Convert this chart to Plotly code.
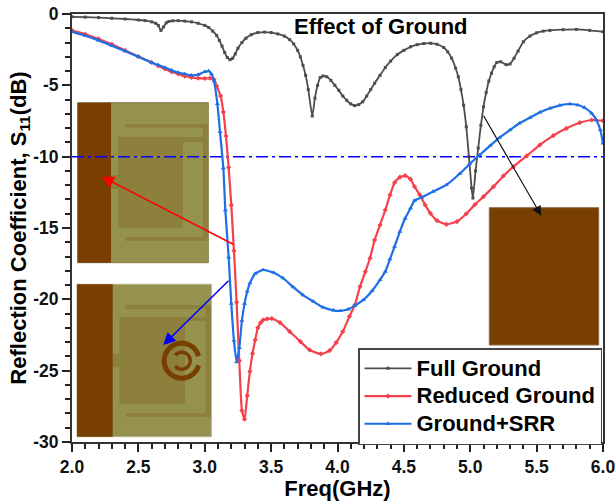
import numpy as np
import plotly.graph_objects as go

W, H = 616, 501
L, R, T, B = 72, 603, 14, 442

full_x = [2.0,2.1,2.2,2.3,2.4,2.5,2.55,2.6,2.63,2.65,2.67,2.69,2.71,2.73,2.76,2.8,2.85,2.9,2.95,3.0,3.03,3.06,3.09,3.11,3.13,3.15,3.17,3.19,3.21,3.23,3.25,3.28,3.31,3.35,3.4,3.45,3.5,3.55,3.6,3.64,3.67,3.7,3.72,3.74,3.76,3.78,3.81,3.83,3.85,3.87,3.89,3.92,3.95,3.98,4.01,4.04,4.07,4.1,4.13,4.16,4.19,4.22,4.25,4.28,4.32,4.36,4.4,4.45,4.5,4.55,4.6,4.65,4.7,4.75,4.8,4.83,4.86,4.89,4.91,4.93,4.95,4.97,4.99,5.01,5.02,5.04,5.06,5.08,5.1,5.12,5.14,5.16,5.18,5.2,5.23,5.27,5.3,5.33,5.36,5.4,5.45,5.5,5.55,5.6,5.7,5.8,5.9,6.0]
full_y = [-0.2,-0.22,-0.25,-0.3,-0.35,-0.42,-0.46,-0.55,-0.65,-0.8,-1.15,-0.9,-0.62,-0.52,-0.48,-0.47,-0.5,-0.55,-0.65,-0.8,-0.95,-1.2,-1.5,-1.85,-2.25,-2.7,-3.05,-3.2,-3.1,-2.8,-2.4,-2.0,-1.7,-1.45,-1.3,-1.27,-1.3,-1.4,-1.55,-1.8,-2.1,-2.55,-3.0,-3.6,-4.3,-5.3,-7.15,-5.9,-5.0,-4.45,-4.35,-4.4,-4.65,-5.0,-5.35,-5.75,-6.05,-6.3,-6.42,-6.35,-6.15,-5.75,-5.3,-4.85,-4.3,-3.75,-3.3,-2.85,-2.55,-2.3,-2.15,-2.07,-2.05,-2.12,-2.35,-2.65,-3.1,-3.8,-4.4,-5.3,-6.4,-7.9,-10.0,-12.2,-12.9,-11.0,-9.4,-7.8,-6.5,-5.5,-4.7,-4.15,-3.7,-3.4,-3.35,-3.55,-3.5,-3.1,-2.6,-1.95,-1.55,-1.32,-1.2,-1.15,-1.1,-1.08,-1.15,-1.25]

red_x = [2.0,2.1,2.2,2.3,2.4,2.5,2.6,2.65,2.7,2.75,2.8,2.85,2.9,2.95,3.0,3.04,3.07,3.09,3.12,3.14,3.16,3.18,3.2,3.22,3.24,3.26,3.28,3.3,3.32,3.34,3.36,3.38,3.4,3.42,3.44,3.47,3.505,3.567,3.64,3.72,3.79,3.875,3.94,3.99,4.04,4.09,4.13,4.17,4.21,4.245,4.28,4.32,4.36,4.396,4.43,4.47,4.51,4.55,4.58,4.62,4.66,4.7,4.75,4.82,4.9,4.97,5.035,5.1,5.175,5.25,5.325,5.425,5.525,5.625,5.725,5.825,5.915,6.0]
red_y = [-1.15,-1.42,-1.75,-2.12,-2.55,-2.98,-3.4,-3.63,-3.85,-4.05,-4.2,-4.35,-4.45,-4.5,-4.52,-4.5,-4.6,-5.05,-5.75,-6.87,-8.55,-10.75,-13.4,-16.6,-20.2,-24.3,-27.8,-28.4,-26.75,-25.05,-23.8,-22.85,-22.0,-21.65,-21.45,-21.37,-21.35,-21.63,-22.26,-22.96,-23.55,-23.83,-23.6,-23.03,-22.26,-21.2,-20.4,-19.1,-18.06,-17.12,-15.84,-14.79,-13.74,-12.68,-11.82,-11.44,-11.33,-11.58,-12.1,-12.68,-13.38,-13.97,-14.48,-14.74,-14.55,-14.0,-13.36,-12.8,-12.1,-11.35,-10.7,-9.95,-9.18,-8.53,-8.01,-7.62,-7.43,-7.48]

blue_x = [2.0,2.1,2.2,2.3,2.4,2.5,2.6,2.65,2.7,2.75,2.8,2.85,2.9,2.95,3.0,3.03,3.05,3.07,3.095,3.115,3.14,3.155,3.18,3.2,3.22,3.24,3.26,3.28,3.3,3.32,3.34,3.38,3.44,3.52,3.59,3.667,3.74,3.82,3.89,3.97,4.02,4.08,4.13,4.195,4.26,4.32,4.36,4.395,4.43,4.47,4.51,4.55,4.58,4.635,4.72,4.82,4.92,4.995,5.07,5.15,5.22,5.3,5.37,5.45,5.525,5.6,5.675,5.75,5.81,5.86,5.915,5.95,5.98,6.0]
blue_y = [-1.25,-1.52,-1.85,-2.22,-2.6,-3.0,-3.4,-3.58,-3.75,-3.95,-4.1,-4.2,-4.3,-4.25,-4.05,-4.0,-4.2,-4.7,-6.3,-8.27,-10.8,-13.75,-17.05,-20.3,-22.9,-24.4,-23.4,-21.5,-20.3,-19.45,-18.87,-18.2,-17.94,-18.13,-18.52,-19.15,-19.7,-20.16,-20.56,-20.77,-20.81,-20.7,-20.44,-20.04,-19.41,-18.64,-18.05,-17.19,-16.3,-15.25,-14.32,-13.62,-13.08,-12.85,-12.45,-11.98,-11.2,-10.51,-9.88,-9.23,-8.67,-8.13,-7.66,-7.26,-6.89,-6.61,-6.4,-6.31,-6.38,-6.56,-6.96,-7.43,-8.13,-9.06]

threshold_x = [2.0, 6.0]
threshold_y = [-10, -10]

x_ticks = [2.0,2.5,3.0,3.5,4.0,4.5,5.0,5.5,6.0]
x_labels = ["2.0","2.5","3.0","3.5","4.0","4.5","5.0","5.5","6.0"]
y_ticks = [0,-5,-10,-15,-20,-25,-30]
y_labels = ["0","-5","-10","-15","-20","-25","-30"]

names = ["Full Ground", "Reduced Ground", "Ground+SRR"]
DARK, RED, BLUE = "#4d4d4d", "#f5414b", "#1e6fe6"
BROWN, OLIVE, PATCH = "#783f00", "#95914f", "#8d7f3c"
FONT = "Liberation Sans, Arial, sans-serif"

px = lambda v: (v - L) / (R - L)
py = lambda v: (B - v) / (B - T)


def rect(x0, y0, x1, y1, color, line=None):
    return dict(type="rect", xref="paper", yref="paper", layer="below",
                x0=px(x0), x1=px(x1), y0=py(y1), y1=py(y0), fillcolor=color,
                line=dict(color=line or color, width=1 if line else 0))


def arc(cx, cy, r, a0, a1, width):
    t = np.radians(np.linspace(a0, a1, 48))
    pts = [f"{px(cx + r*np.cos(a)):.5f},{py(cy - r*np.sin(a)):.5f}" for a in t]
    return dict(type="path", xref="paper", yref="paper", layer="below",
                path="M" + " L".join(pts), line=dict(color=BROWN, width=width))


shapes = [
    rect(77.7, 102.7, 208.3, 262.7, OLIVE, "#807c48"),
    rect(125, 124, 208, 127.5, PATCH), rect(203, 124, 208, 240.7, PATCH),
    rect(125, 237, 208, 240.7, PATCH),
    rect(118, 137, 203, 142, PATCH), rect(118, 142, 183, 228, PATCH),
    rect(111, 175, 118, 189, PATCH),
    rect(77.7, 102.7, 111, 262.7, BROWN),
    rect(77, 284.3, 211.3, 436.7, OLIVE, "#b3b08a"),
    rect(125.7, 305, 211, 309, PATCH), rect(205.7, 305, 211, 416.7, PATCH),
    rect(125.7, 413.3, 211, 416.7, PATCH),
    rect(119.3, 317, 205.7, 321, PATCH), rect(119.3, 321, 185, 404, PATCH),
    rect(112.7, 354, 119.3, 366.7, PATCH),
    rect(77, 284.3, 112.7, 436.7, BROWN),
    arc(181.7, 360.7, 17.5, 15, 345, 5),
    arc(181.7, 360.7, 8.5, -140, 140, 3.5),
    rect(489.3, 207.7, 598.7, 345, BROWN, "#8a6a45"),
]


def arrow(x0, y0, x1, y1, color, width=1.5):
    return dict(x=px(x1), y=py(y1), xref="paper", yref="paper", text="",
                showarrow=True, ax=x0 - x1, ay=y0 - y1, axref="pixel", ayref="pixel",
                arrowhead=2, arrowsize=1.6, arrowwidth=width, arrowcolor=color)


annotations = [
    dict(x=px(381), y=py(26), xref="paper", yref="paper", xanchor="center", yanchor="middle",
         text="<b>Effect of Ground</b>", showarrow=False,
         font=dict(size=22, color="black", family=FONT)),
    arrow(234.7, 245, 102, 176.7, "#ff0000"),
    arrow(230, 279.3, 163.3, 345, "#0000ff"),
    arrow(482.7, 114.3, 541.3, 215.7, "#111111", 1.2),
]

fig = go.Figure()
fig.add_trace(go.Scatter(x=threshold_x, y=threshold_y, mode="lines", showlegend=False,
                         line=dict(color="#0000ff", width=1.5, dash="12px,4px,3px,4px")))
for n, xs, ys, c, sym, size, lw in [
    (names[0], full_x, full_y, DARK, "square", 3, 1.8),
    (names[1], red_x, red_y, RED, "diamond", 4, 2.2),
    (names[2], blue_x, blue_y, BLUE, "triangle-up", 4.5, 2.2),
]:
    fig.add_trace(go.Scatter(x=xs, y=ys, mode="lines+markers",
                             name=f'<span style="font-size:22px">{n}</span>',
                             line=dict(color=c, width=lw, shape="spline", smoothing=0.5),
                             marker=dict(color=c, symbol=sym, size=size)))

axis_common = dict(showgrid=False, zeroline=False, showline=True, mirror=True, linecolor="#333333",
                   linewidth=2, ticks="outside", tickcolor="#222222", tickwidth=2, ticklen=8,
                   automargin=False, tickfont=dict(size=17.5, color="#111111", family=FONT, weight="bold"))
fig.update_xaxes(range=[2, 6], tickvals=x_ticks, ticktext=x_labels,
                 title=dict(text="<b>Freq(GHz)</b>",
                            font=dict(size=22, color="black", family=FONT)),
                 minor=dict(dtick=0.1, ticks="outside", ticklen=5, tickwidth=1.5, tickcolor="#222222"),
                 **axis_common)
fig.update_yaxes(range=[-30, 0], tickvals=y_ticks, ticktext=y_labels,
                 title=dict(text="<b>Reflection Coefficient, S<sub>11</sub>(dB)</b>", standoff=1,
                            font=dict(size=22, color="black", family=FONT)),
                 minor=dict(dtick=1, ticks="outside", ticklen=5, tickwidth=1.5, tickcolor="#222222"),
                 **axis_common)
fig.update_layout(
    width=W, height=H, margin=dict(l=L, r=W - R, t=T, b=H - B, autoexpand=False),
    paper_bgcolor="white", plot_bgcolor="white", shapes=shapes, annotations=annotations,
    font=dict(family=FONT),
    legend=dict(x=px(358), y=py(348), xanchor="left", yanchor="top", itemwidth=47,
                bgcolor="white", bordercolor="#444444", borderwidth=1.5,
                tracegroupgap=0, font=dict(size=19, color="black", family=FONT, weight="bold")),
)
fig.write_html("out.html", config={"displayModeBar": False},
               post_script="document.body.style.margin='0';document.body.style.overflow='hidden';window.dispatchEvent(new Event('resize'));")
